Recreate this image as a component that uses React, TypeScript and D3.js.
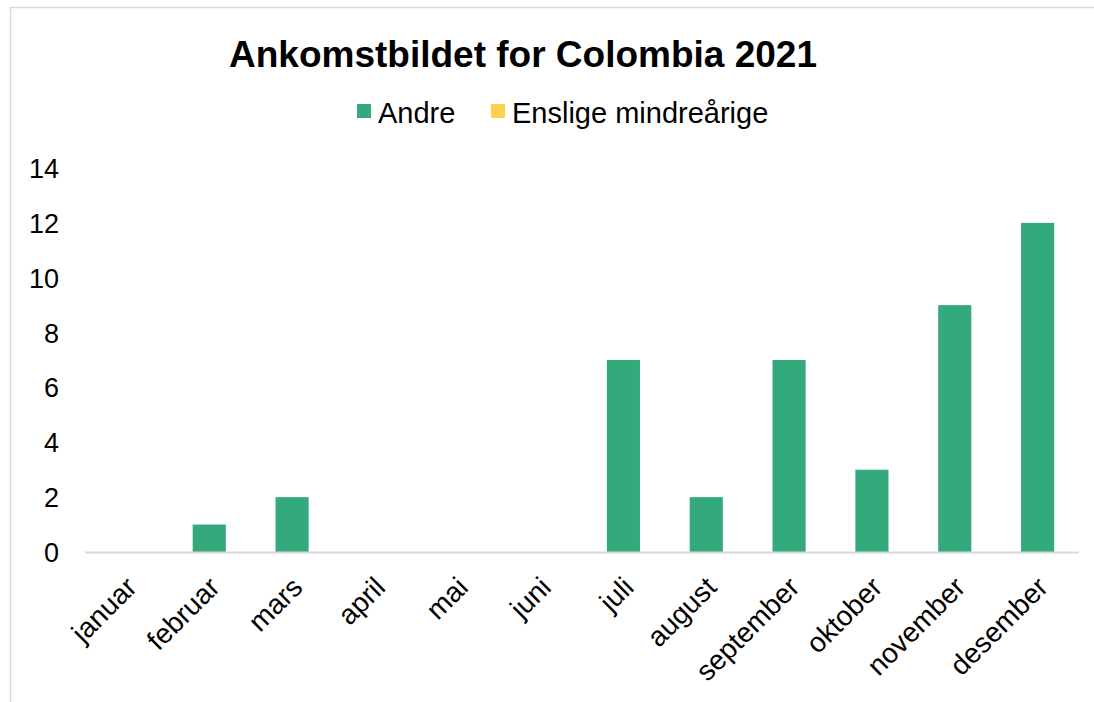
import React, { useEffect, useRef } from "react";
import * as d3 from "d3";

const months = ["januar", "februar", "mars", "april", "mai", "juni", "juli", "august", "september", "oktober", "november", "desember"];
const andre = [0, 1, 2, 0, 0, 0, 7, 2, 7, 3, 9, 12];
const enslige = [0, 0, 0, 0, 0, 0, 0, 0, 0, 0, 0, 0];
const yTicks = [0, 2, 4, 6, 8, 10, 12, 14];
const seriesNames = ["Andre", "Enslige mindreårige"];
const colors = ["#34a97b", "#ffd04f"];

const W = 1094;
const H = 702;
const FONT = "'Liberation Sans', Arial, sans-serif";

export default function App() {
  const ref = useRef<SVGSVGElement>(null);

  useEffect(() => {
    const svg = d3.select(ref.current);
    svg.selectAll("*").remove();

    svg.append("rect").attr("x", 0).attr("y", 0).attr("width", W).attr("height", H).attr("fill", "#fff");
    // chart border (runs off the right and bottom edges)
    svg.append("rect")
      .attr("x", 10.5).attr("y", 7.5).attr("width", W).attr("height", H)
      .attr("fill", "none").attr("stroke", "#d9d9d9").attr("stroke-width", 1.5);

    const left = 85, right = 1079, top = 168, bottom = 552;

    const x = d3.scaleBand().domain(months).range([left, right]).paddingInner(0.6).paddingOuter(0.3);
    const y = d3.scaleLinear().domain([0, 14]).range([bottom, top]);

    svg.append("text")
      .attr("x", 523).attr("y", 67)
      .attr("text-anchor", "middle")
      .attr("font-family", FONT).attr("font-weight", "bold").attr("font-size", 37)
      .text("Ankomstbildet for Colombia 2021");

    // legend
    const legendX = [357, 491];
    seriesNames.forEach((name, i) => {
      svg.append("rect").attr("x", legendX[i]).attr("y", 104).attr("width", 14).attr("height", 14).attr("fill", colors[i]);
      svg.append("text")
        .attr("x", legendX[i] + 21).attr("y", 123)
        .attr("font-family", FONT).attr("font-size", 29)
        .text(name);
    });

    // y tick labels
    svg.append("g").selectAll("text").data(yTicks).enter().append("text")
      .attr("x", 59).attr("y", d => y(d) + 10)
      .attr("text-anchor", "end")
      .attr("font-family", FONT).attr("font-size", 27)
      .text(d => d);

    // stacked bars
    const rows = months.map((m, i) => ({ month: m, Andre: andre[i], "Enslige mindreårige": enslige[i] }));
    const stack = d3.stack<any>().keys(seriesNames)(rows);
    stack.forEach((s, si) => {
      svg.append("g").attr("fill", colors[si]).selectAll("rect").data(s).enter().append("rect")
        .attr("x", d => x(d.data.month) as number)
        .attr("width", x.bandwidth())
        .attr("y", d => y(d[1]))
        .attr("height", d => y(d[0]) - y(d[1]));
    });

    // x axis line
    svg.append("line")
      .attr("x1", left).attr("x2", right).attr("y1", bottom + 0.5).attr("y2", bottom + 0.5)
      .attr("stroke", "#d9d9d9").attr("stroke-width", 2);

    // x labels rotated
    svg.append("g").selectAll("text").data(months).enter().append("text")
      .attr("transform", d => `translate(${(x(d) as number) + x.bandwidth() / 2 + 12},${bottom + 37}) rotate(-45)`)
      .attr("text-anchor", "end")
      .attr("font-family", FONT).attr("font-size", 28)
      .text(d => d);
  }, []);

  return (
    <div style={{ position: "fixed", left: 0, top: 0 }}>
      <svg ref={ref} width={W} height={H} />
    </div>
  );
}
